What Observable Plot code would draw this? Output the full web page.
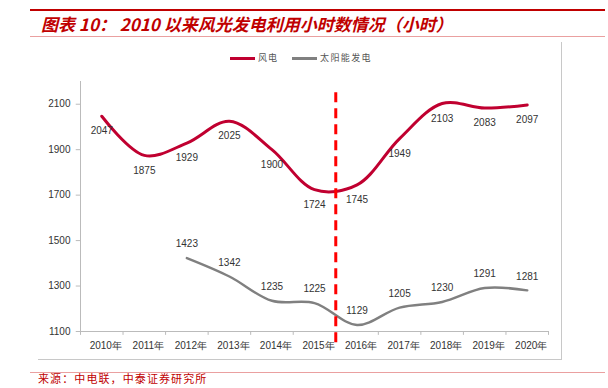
<!DOCTYPE html>
<html><head><meta charset="utf-8">
<script src="https://cdn.jsdelivr.net/npm/d3@7"></script>
<script src="https://cdn.jsdelivr.net/npm/@observablehq/plot@0.6"></script>
<style>
body{margin:0;background:#fff;font-family:"Liberation Sans",Arial,sans-serif;}
#wrap{position:relative;width:608px;height:388px;overflow:hidden;}
.abs{position:absolute;}
</style></head>
<body><div id="wrap">
<div class="abs" style="left:30px;top:9px;width:575px;height:2px;background:#c00000"></div>
<div class="abs" style="left:41px;top:12px;font-size:17px;line-height:24px;font-weight:bold;font-style:italic;color:#c00000;font-family:'Noto Sans CJK SC',sans-serif;white-space:nowrap">图表 10： 2010 以来风光发电利用小时数情况（小时）</div>
<div class="abs" style="left:30px;top:36px;width:575px;height:1px;background:#eaa0a0"></div>
<div class="abs" style="left:38px;top:42px;width:524px;height:318px;border-right:1px solid #c8c8c8;border-bottom:1px solid #c8c8c8;box-sizing:border-box"></div>
<div id="chart" class="abs" style="left:0;top:44px"></div>
<div class="abs" style="left:230px;top:57px;width:25px;height:3px;background:#c00030"></div>
<div class="abs" style="left:258px;top:52px;font-size:9px;line-height:11px;letter-spacing:1px;color:#555;font-family:'Noto Sans CJK SC',sans-serif">风电</div>
<div class="abs" style="left:292px;top:57px;width:25px;height:3px;background:#808080"></div>
<div class="abs" style="left:320px;top:52px;font-size:9px;line-height:11px;letter-spacing:1.4px;color:#555;font-family:'Noto Sans CJK SC',sans-serif">太阳能发电</div>
<div class="abs" style="left:30px;top:372px;width:575px;height:1px;background:#eaa0a0"></div>
<div class="abs" style="left:38px;top:371px;font-size:11px;line-height:14px;letter-spacing:1.1px;color:#c00000;font-family:'Noto Sans CJK SC',sans-serif;white-space:nowrap">来源：中电联，中泰证券研究所</div>
</div>
<script>
const years = ["2010年","2011年","2012年","2013年","2014年","2015年","2016年","2017年","2018年","2019年","2020年"];
const wind = [2047,1875,1929,2025,1900,1724,1745,1949,2103,2083,2097];
const solarYears = ["2012年","2013年","2014年","2015年","2016年","2017年","2018年","2019年","2020年"];
const solar = [1423,1342,1235,1225,1129,1205,1230,1291,1281];
const yTicks = [1100,1300,1500,1700,1900,2100];
const policyBreak = 5.5;

const windData = wind.map((v,i)=>({x:years.indexOf(years[i]), v}));
const solarData = solar.map((v,i)=>({x:years.indexOf(solarYears[i]), v}));
const bounds = d3.range(-0.5, years.length, 1);

const chart = Plot.plot({
  width:608, height:316,
  marginLeft:80, marginRight:60, marginTop:37, marginBottom:29,
  style:{fontFamily:"'Liberation Sans',Arial,sans-serif", fontSize:"10px", color:"#333"},
  x:{type:"linear", domain:[-0.5, years.length-0.5], axis:null},
  y:{type:"linear", domain:[1100,2200], axis:null},
  marks:[
    Plot.ruleY([1100],{stroke:"#bbb"}),
    Plot.ruleX([-0.5],{y1:1100,y2:2200,stroke:"#bbb"}),
    Plot.ruleX(bounds,{x:d=>d, y1:1100, y2:1083, stroke:"#bbb"}),
    Plot.text(years,{x:(d,i)=>i, y:1100, dy:14, dx:4, text:d=>d, fill:"#333", fontSize:10}),
    Plot.text(yTicks,{x:-0.5, y:d=>d, dx:-10, textAnchor:"end", text:d=>String(d), fill:"#333", fontSize:10}),
    Plot.ruleY(yTicks,{y:d=>d, x1:-0.5, x2:-0.6, stroke:"#bbb"}),
    Plot.line(windData,{x:"x", y:"v", curve:"catmull-rom", stroke:"#c00030", strokeWidth:3}),
    Plot.line(solarData,{x:"x", y:"v", curve:"catmull-rom", stroke:"#808080", strokeWidth:2.5}),
    Plot.text(windData,{x:"x", y:"v", dy:15, text:d=>String(d.v), fill:"#333", fontSize:10}),
    Plot.text(solarData,{x:"x", y:"v", dy:-14, text:d=>String(d.v), fill:"#333", fontSize:10}),
    Plot.ruleX([policyBreak],{y1:2150, y2:1040, stroke:"#ff0000", strokeWidth:3, strokeDasharray:"10,6"})
  ]
});
document.getElementById("chart").appendChild(chart);
</script>
</body></html>
